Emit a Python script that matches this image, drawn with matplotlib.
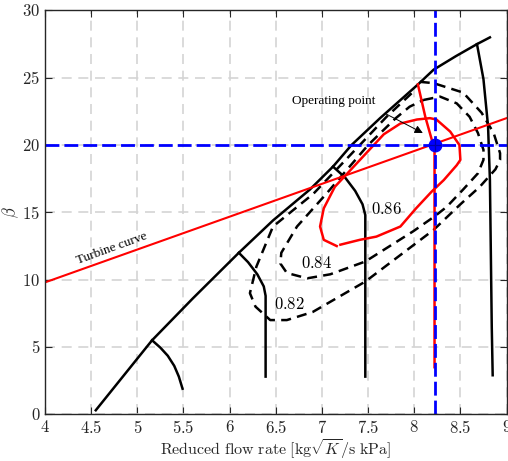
import numpy as np
import matplotlib
matplotlib.use('Agg')
import matplotlib.pyplot as plt
from matplotlib.ticker import FuncFormatter

plt.rcParams['font.family'] = 'serif'
plt.rcParams['font.serif'] = ['Liberation Serif', 'DejaVu Serif']
plt.rcParams['mathtext.fontset'] = 'cm'

# surge line
surge_x = [4.55, 5.16, 5.60, 6.10, 6.47, 6.87, 7.12, 7.32, 7.63, 8.04, 8.21, 8.45, 8.68, 8.82]
surge_y = [0.3, 5.5, 8.6, 12.0, 14.4, 16.7, 18.4, 20.0, 22.0, 24.5, 25.6, 26.6, 27.5, 28.0]

# speed lines (black)
sp1_x = [5.16, 5.25, 5.33, 5.40, 5.45, 5.49]
sp1_y = [5.5, 4.95, 4.35, 3.6, 2.8, 1.9]
sp2_x = [6.10, 6.20, 6.30, 6.37, 6.39, 6.39]
sp2_y = [12.0, 11.3, 10.4, 9.5, 8.8, 2.8]
sp3_x = [7.12, 7.25, 7.36, 7.44, 7.47, 7.47]
sp3_y = [18.4, 17.6, 16.6, 15.6, 14.8, 2.8]
sp4_x = [8.68, 8.75, 8.80, 8.82, 8.83, 8.84, 8.85]
sp4_y = [27.5, 24.9, 21.4, 17.4, 12.0, 6.5, 2.9]

# operating speed line (red)
op_speed_x = [8.04, 8.12, 8.19, 8.22, 8.22]
op_speed_y = [24.5, 22.1, 20.4, 19.5, 3.5]

# efficiency contours
eff86_x = [7.16, 7.02, 6.98, 7.02, 7.14, 7.29, 7.48, 7.67, 7.85, 8.03, 8.17, 8.24, 8.39, 8.49,
           8.50, 8.46, 8.32, 8.19, 8.02, 7.85, 7.59, 7.41, 7.20]
eff86_y = [12.5, 12.96, 13.95, 15.3, 16.9, 18.0, 19.4, 20.8, 21.6, 21.9, 22.0, 21.9, 21.0, 20.0,
           18.9, 18.5, 17.4, 16.55, 15.3, 13.95, 13.2, 12.96, 12.6]
eff84_x = [8.10, 8.28, 8.46, 8.60, 8.69, 8.75, 8.75, 8.69, 8.53, 8.35, 8.22, 7.99, 7.47, 7.09,
           6.84, 6.62, 6.55, 6.56, 6.73, 7.05, 7.50, 7.80, 7.95, 8.10]
eff84_y = [23.35, 23.6, 23.1, 22.1, 20.9, 19.65, 18.9, 17.9, 16.7, 15.4, 14.7, 13.6, 11.35, 10.4,
           10.1, 10.5, 11.2, 12.0, 13.95, 16.4, 20.0, 22.0, 22.85, 23.35]
eff82_x = [8.06, 8.21, 8.53, 8.73, 8.86, 8.93, 8.93, 8.88, 8.71, 8.50, 8.21, 7.47, 6.90, 6.62,
           6.44, 6.28, 6.22, 6.29, 6.47, 6.91, 7.41, 7.70, 7.98]
eff82_y = [24.7, 24.6, 23.9, 22.4, 20.9, 19.4, 18.9, 18.2, 16.9, 15.6, 13.7, 9.86, 7.6, 7.0,
           7.0, 8.0, 9.0, 10.97, 13.95, 16.4, 20.0, 22.1, 23.9]
eff_labels = ['0.86', '0.84', '0.82']
eff_label_x = [7.70, 6.94, 6.65]
eff_label_y = [15.2, 11.2, 8.1]

# turbine curve
turb_x = [4.0, 9.0]
turb_y = [9.8, 22.0]

# operating point
op_x = 8.22
op_y = 20.0

fig = plt.figure(figsize=(5.08, 4.61), dpi=100)
ax = fig.add_axes([0.0886, 0.1013, 0.9085, 0.876])

ax.set_xlim(4, 9)
ax.set_ylim(0, 30)
ax.set_xticks(np.arange(4, 9.01, 0.5))
ax.set_yticks(np.arange(0, 31, 5))
ax.xaxis.set_major_formatter(FuncFormatter(lambda v, p: '$%g$' % v))
ax.yaxis.set_major_formatter(FuncFormatter(lambda v, p: '$%g$' % v))
ax.tick_params(direction='in', top=True, right=True, length=5, width=0.8,
               labelsize=12, colors='#262626')
ax.tick_params(axis='x', pad=4)
for s in ax.spines.values():
    s.set_color('#262626')
    s.set_linewidth(1.0)
ax.grid(True, color='#d4d4d4', lw=1.2, dashes=(6, 4))
ax.set_axisbelow(True)

lw = 1.8
ax.plot(surge_x, surge_y, color='k', lw=lw)
for sx, sy in [(sp1_x, sp1_y), (sp2_x, sp2_y), (sp3_x, sp3_y), (sp4_x, sp4_y)]:
    ax.plot(sx, sy, color='k', lw=lw)

ax.plot(eff84_x, eff84_y, color='k', lw=lw, dashes=(4, 2.5))
ax.plot(eff82_x, eff82_y, color='k', lw=lw, dashes=(4, 2.5))
ax.plot(eff86_x, eff86_y, color='r', lw=lw)
for t, lx, ly in zip(eff_labels, eff_label_x, eff_label_y):
    ax.text(lx, ly, '$%s$' % t, fontsize=12, ha='center', va='center')

ax.plot(turb_x, turb_y, color='r', lw=1.5)
ax.text(4.72, 12.3, 'Turbine curve', fontsize=9.5, rotation=20, ha='center', va='center',
        rotation_mode='anchor')
ax.plot(op_speed_x, op_speed_y, color='r', lw=lw)

ax.axhline(op_y, color='b', lw=2, dashes=(5, 1.8))
ax.axvline(op_x, color='b', lw=2, dashes=(5, 1.8))
ax.plot(op_x, op_y, 'o', color='b', markersize=9, zorder=5)
ax.plot(op_x, op_y, '+', color='#0000aa', markersize=8, mew=0.9, zorder=6)

ax.annotate('', xy=(8.12, 20.8), xytext=(7.67, 22.4),
            arrowprops=dict(arrowstyle='-|>', color='k', lw=0.7, mutation_scale=12))
ax.text(7.13, 23.24, 'Operating point', fontsize=9.5, ha='center', va='center')

ax.set_xlabel(r'$\mathrm{Reduced\ flow\ rate\ [kg}\sqrt{K}\mathrm{/s\ kPa]}$', fontsize=11.5,
              color='#262626', labelpad=0)
ax.set_ylabel(r'$\beta$', fontsize=12, color='#262626')
ax.yaxis.set_label_coords(-0.053, 0.5)

fig.savefig('out.png', dpi=100)
